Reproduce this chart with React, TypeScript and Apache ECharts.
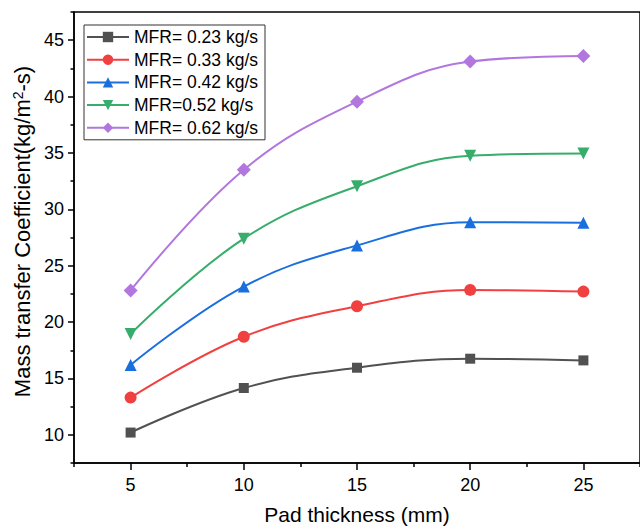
import React, { useEffect, useRef } from "react";
import * as echarts from "echarts";

const thickness = [5, 10, 15, 20, 25];
const seriesNames = [
  "MFR= 0.23 kg/s",
  "MFR= 0.33 kg/s",
  "MFR= 0.42 kg/s",
  "MFR=0.52 kg/s",
  "MFR= 0.62 kg/s",
];
const mfr023 = [10.2, 14.15, 15.95, 16.75, 16.6];
const mfr033 = [13.3, 18.7, 21.4, 22.85, 22.7];
const mfr042 = [16.2, 23.15, 26.8, 28.85, 28.8];
const mfr052 = [18.95, 27.4, 32.05, 34.75, 34.95];
const mfr062 = [22.8, 33.5, 39.55, 43.1, 43.6];
const xMajorTicks = [5, 10, 15, 20, 25];
const xMinorTicks = [2.5, 7.5, 12.5, 17.5, 22.5, 27.5];
const yMajorTicks = [10, 15, 20, 25, 30, 35, 40, 45];
const yMinorTicks = [7.5, 12.5, 17.5, 22.5, 27.5, 32.5, 37.5, 42.5, 47.5];

const colors = ["#515151", "#F14040", "#1A6FDF", "#37AD6B", "#B177DE"];
const symbols = ["rect", "circle", "triangle", "triangle", "diamond"];
const symbolRotates = [0, 0, 0, 180, 0];
const symbolSizes = [10, 12, 12, 12, 14];
const allValues = [mfr023, mfr033, mfr042, mfr052, mfr062];

const FONT = 'Arial, "Liberation Sans", sans-serif';

export default function App() {
  const ref = useRef<HTMLDivElement>(null);
  useEffect(() => {
    if (!ref.current) return;
    const chart = echarts.init(ref.current, null, { renderer: "svg" });
    const xBase = { type: "value", min: 2.5, max: 27.5, gridIndex: 0 };
    const yBase = { type: "value", min: 7.5, max: 47.5, gridIndex: 0 };
    chart.setOption({
      animation: false,
      backgroundColor: "#fff",
      grid: {
        left: 74,
        right: 0,
        top: 12,
        bottom: 65,
        show: true,
        borderColor: "#000",
        borderWidth: 1.5,
      },
      legend: {
        orient: "vertical",
        left: 84,
        top: 25,
        borderColor: "#333",
        borderWidth: 1,
        padding: [3, 7, 3, 2],
        itemWidth: 42,
        itemHeight: 13,
        itemGap: 4.7,
        textStyle: { fontFamily: FONT, fontSize: 17.5, color: "#000", lineHeight: 17 },
        data: seriesNames,
      },
      xAxis: [
        {
          ...xBase,
          name: "Pad thickness (mm)",
          nameLocation: "middle",
          nameGap: 41,
          nameTextStyle: { fontFamily: FONT, fontSize: 21, color: "#000" },
          axisLine: { show: true, lineStyle: { color: "#000", width: 1.5 } },
          axisTick: {
            show: true,
            inside: false,
            length: 7,
            customValues: xMajorTicks,
            lineStyle: { color: "#000", width: 1.5 },
          },
          axisLabel: {
            customValues: xMajorTicks,
            margin: 13,
            fontFamily: FONT,
            fontSize: 18,
            color: "#000",
          },
          splitLine: { show: false },
        },
        {
          ...xBase,
          position: "bottom",
          axisLine: { show: false },
          axisTick: {
            show: true,
            inside: false,
            length: 4,
            customValues: xMinorTicks,
            lineStyle: { color: "#000", width: 1.5 },
          },
          axisLabel: { show: false },
          splitLine: { show: false },
        },
      ],
      yAxis: [
        {
          ...yBase,
          name: "Mass transfer Coefficient(kg/m{sup|2}-s)",
          nameLocation: "middle",
          nameGap: 36,
          nameTextStyle: {
            fontFamily: FONT,
            fontSize: 22,
            color: "#000",
            padding: [0, 0, 0, 12],
            rich: {
              sup: { fontFamily: FONT, fontSize: 14, color: "#000", padding: [0, 0, 9, 0] },
            },
          },
          axisLine: { show: true, lineStyle: { color: "#000", width: 1.5 } },
          axisTick: {
            show: true,
            inside: false,
            length: 6,
            customValues: yMajorTicks,
            lineStyle: { color: "#000", width: 1.5 },
          },
          axisLabel: {
            customValues: yMajorTicks,
            margin: 10,
            fontFamily: FONT,
            fontSize: 18,
            color: "#000",
          },
          splitLine: { show: false },
        },
        {
          ...yBase,
          position: "left",
          axisLine: { show: false },
          axisTick: {
            show: true,
            inside: false,
            length: 3.5,
            customValues: yMinorTicks,
            lineStyle: { color: "#000", width: 1.5 },
          },
          axisLabel: { show: false },
          splitLine: { show: false },
        },
      ],
      series: allValues.map((vals, i) => ({
        name: seriesNames[i],
        type: "line",
        xAxisIndex: 0,
        yAxisIndex: 0,
        data: thickness.map((t, j) => [t, vals[j]]),
        smooth: 0.4,
        symbol: symbols[i],
        symbolSize: symbolSizes[i],
        symbolRotate: symbolRotates[i],
        showAllSymbol: true,
        itemStyle: { color: colors[i] },
        lineStyle: { color: colors[i], width: 2 },
        z: 2 + i,
      })),
    });
    return () => chart.dispose();
  }, []);
  return (
    <div
      ref={ref}
      style={{ position: "fixed", left: 0, top: 0, width: 640, height: 530 }}
    />
  );
}
